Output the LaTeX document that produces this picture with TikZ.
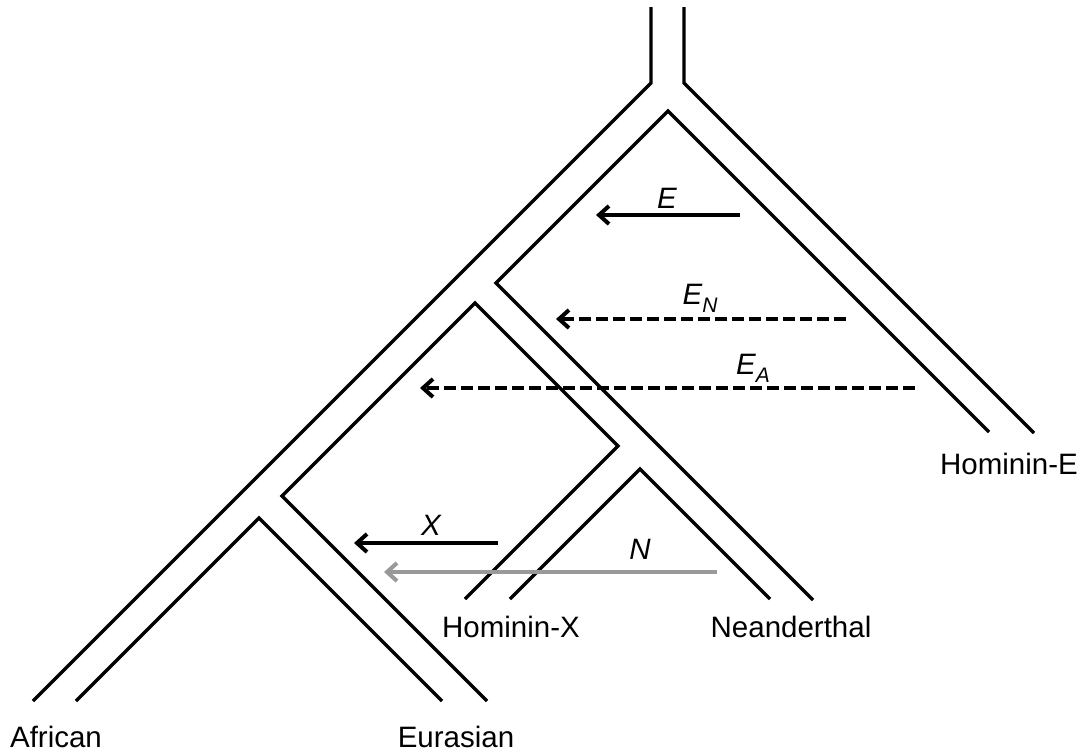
\documentclass[tikz,border=0pt]{standalone}
\usepackage{fontspec}
\setmainfont{Liberation Sans}
\usepackage{xcolor}
\usetikzlibrary{arrows.meta}
\definecolor{ink}{HTML}{000000}
\definecolor{flowgray}{HTML}{999999}
\newcommand{\lowsub}[1]{\raisebox{-4pt}{\fontsize{10.5}{12}\selectfont #1}}

\begin{document}
\begin{tikzpicture}[x=0.5pt,y=-0.5pt,font=\fontsize{14.75}{17}\selectfont,>={Straight Barb[length=5pt,width=9pt]}]
\tikzset{
  branch/.style={draw=ink,line width=1.65pt},
  flow/.style={->,draw=ink,line width=2pt},
  ghost/.style={flow,dash pattern=on 6pt off 2.5pt},
  leaf/.style={anchor=base,inner sep=0pt},
  tag/.style={anchor=base,inner sep=0pt,font=\fontsize{14.75}{17}\selectfont\itshape}
}
\useasboundingbox (0,0) rectangle (1086,755);

\draw[branch] (651,7)--(651,83)--(33,701);
\draw[branch] (684,7)--(684,83)--(1034,433);
\draw[branch] (989,432)--(668,111)--(496,283)--(813,600);
\draw[branch] (487,701)--(282,496)--(475,303)--(618,446)--(465,599);
\draw[branch] (510,599)--(640,469)--(770,599);
\draw[branch] (76,701)--(259,518)--(442,701);

\node[leaf] (african) at (56,747) {African};
\node[leaf] (eurasian) at (456,747) {Eurasian};
\node[leaf] (hominx) at (511,637) {Hominin-X};
\node[leaf] (neand) at (791,637) {Neanderthal};
\node[leaf] (homine) at (1009,474) {Hominin-E};

\coordinate (e0) at (740,215);
\coordinate (e1) at (596,215);
\coordinate (en0) at (846,319);
\coordinate (en1) at (556,319);
\coordinate (ea0) at (915,388);
\coordinate (ea1) at (420,388);
\coordinate (x0) at (498,543);
\coordinate (x1) at (354,543);
\coordinate (n0) at (717,572);
\coordinate (n1) at (384,572);

\draw[flow] (e0)--(e1);
\draw[ghost] (en0)--(en1);
\draw[ghost] (ea0)--(ea1);
\draw[flow] (x0)--(x1);
\draw[flow,draw=flowgray] (n0)--(n1);

\node[tag] (lE) at (667,208) {E};
\node[tag] (lEN) at (700,304) {E\lowsub{N}};
\node[tag] (lEA) at (753,374) {E\lowsub{A}};
\node[tag] (lX) at (431,535) {X};
\node[tag] (lN) at (640,559) {N};
\end{tikzpicture}
\end{document}
